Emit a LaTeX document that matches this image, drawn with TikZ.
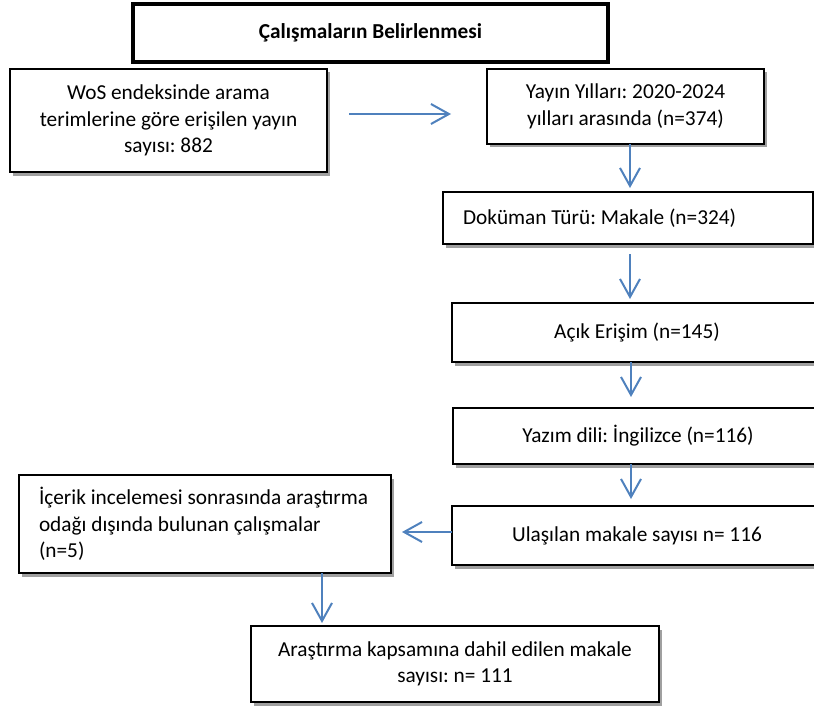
\documentclass[tikz,border=0pt]{standalone}
\usepackage{fontspec}
\setmainfont{Carlito}
\frenchspacing
\usetikzlibrary{arrows.meta,shadows}
\definecolor{arrblue}{RGB}{79,129,189}
\definecolor{shadowgray}{RGB}{160,160,160}
\begin{document}
\frenchspacing
\begin{tikzpicture}[x=1pt,y=-1pt,
  every node/.style={font=\fontsize{21.3}{26.5}\selectfont, inner sep=0pt, outer sep=0pt},
  box/.style={draw, line width=1.7pt, fill=white,
    drop shadow={shadow xshift=2.5pt, shadow yshift=-3.5pt, fill=shadowgray, opacity=1},
    anchor=north west, align=center},
  arr/.style={draw=arrblue, line width=2pt, -{Straight Barb[length=18pt,width=20pt]}}
]
\useasboundingbox (0,0) rectangle (814,706);
\clip (0,0) rectangle (814,706);

\node[draw, line width=3.5pt, anchor=north west, minimum width=475pt, minimum height=58pt,
  font=\bfseries\fontsize{21.3}{26}\selectfont] (title) at (133,4) {Çalışmaların Belirlenmesi};

\node[box, minimum width=317pt, minimum height=103pt] (wos) at (10,69)
  {WoS endeksinde arama\\terimlerine göre erişilen yayın\\sayısı: 882};
\node[box, minimum width=277pt, minimum height=75pt] (yay) at (487,69)
  {Yayın Yılları: 2020-2024\\yılları arasında (n=374)};
\node[box, align=flush left, text width=330pt, inner xsep=20pt, minimum height=52pt] (doc) at (443,192)
  {\mbox{Doküman Türü: Makale (n=324)}};
\node[box, minimum width=370pt, minimum height=59pt] (acik) at (452,303)
  {Açık Erişim (n=145)};
\node[box, minimum width=370pt, minimum height=56pt] (yaz) at (453,408)
  {Yazım dili: İngilizce (n=116)};
\node[box, minimum width=370pt, minimum height=59pt] (ulas) at (452,506)
  {Ulaşılan makale sayısı n= 116};
\node[box, align=flush left, text width=332pt, inner xsep=20pt, minimum height=98pt] (icerik) at (19,475)
  {\mbox{İçerik incelemesi sonrasında araştırma}\\\mbox{odağı dışında bulunan çalışmalar}\\\mbox{(n=5)}};
\node[box, minimum width=408pt, minimum height=76pt] (aras) at (251,626)
  {Araştırma kapsamına dahil edilen makale\\sayısı: n= 111};

\draw[arr, shorten <=22pt, shorten >=36pt] (wos.east |- 0,114) -- (yay.west |- 0,114);
\draw[arr, shorten >=4pt] (630,0 |- yay.south) -- (630,0 |- doc.north);
\draw[arr, shorten <=10pt, shorten >=4pt] (630,0 |- doc.south) -- (630,0 |- acik.north);
\draw[arr, shorten >=11pt] (631,0 |- acik.south) -- (631,0 |- yaz.north);
\draw[arr, shorten >=7pt] (631,0 |- yaz.south) -- (631,0 |- ulas.north);
\draw[arr, shorten >=11pt] (ulas.west |- 0,532) -- (icerik.east |- 0,532);
\draw[arr, shorten >=3pt] (322,0 |- icerik.south) -- (322,0 |- aras.north);
\end{tikzpicture}
\end{document}
